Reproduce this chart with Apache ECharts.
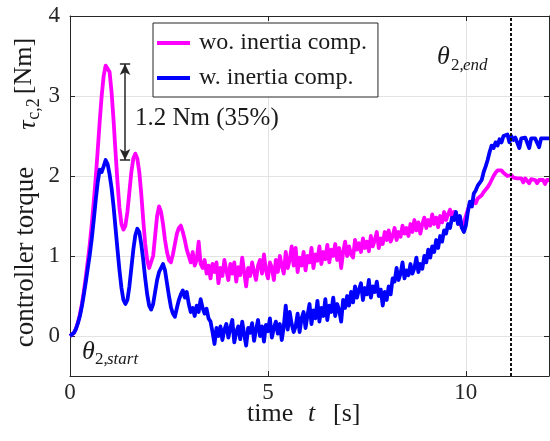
<!DOCTYPE html>
<html><head><meta charset="utf-8">
<script src="https://cdn.jsdelivr.net/npm/echarts@6/dist/echarts.min.js"></script>
<style>html,body{margin:0;padding:0;background:#fff}#c{width:550px;height:441px}</style>
</head><body><div id="c"></div>
<script>
// sampling grid of the recorded signals (seconds)
const tStart = 0, tStep = 0.05;
// controller torque tau_c,2 [Nm] without inertia compensation
const woInertia = [
0.00,0.01,0.04,0.09,0.17,0.27,0.40,0.56,0.74,0.94,1.15,1.40,1.68,1.98,2.32,2.68,3.00,3.25,3.38,3.40,
3.30,3.05,2.70,2.30,1.92,1.60,1.40,1.33,1.38,1.55,1.80,2.05,2.22,2.28,2.22,2.05,1.78,1.45,1.15,0.95,
0.85,0.85,1.00,1.25,1.50,1.62,1.55,1.40,1.20,1.05,0.95,0.92,1.02,1.15,1.28,1.35,1.38,1.30,1.20,1.08,
1.00,0.92,1.05,0.88,0.95,1.18,0.90,0.85,0.95,0.78,0.88,0.72,0.90,0.80,0.92,0.66,0.85,0.75,0.95,0.82,
0.70,0.90,0.78,0.92,0.68,0.86,0.76,0.98,0.80,0.62,0.85,0.75,0.92,0.80,0.70,0.88,0.95,0.78,1.02,0.82,
0.72,0.92,0.85,0.70,0.95,0.80,1.00,0.88,0.78,1.05,0.85,0.95,1.12,0.88,1.10,0.80,0.98,0.88,1.05,0.82,
1.00,0.92,1.10,0.85,1.02,0.94,1.12,0.90,1.05,0.96,1.14,0.92,1.08,1.00,1.15,0.95,1.10,0.85,1.05,1.18,
1.00,1.12,1.02,0.98,1.20,1.08,1.16,1.05,1.22,1.10,1.18,1.06,1.25,1.12,1.20,1.30,1.10,1.22,1.15,1.30,
1.20,1.32,1.18,1.25,1.35,1.20,1.30,1.24,1.38,1.28,1.35,1.25,1.40,1.30,1.45,1.32,1.42,1.28,1.40,1.48,
1.35,1.45,1.38,1.52,1.40,1.48,1.36,1.50,1.42,1.55,1.45,1.52,1.58,1.48,1.55,1.50,1.45,1.40,1.36,1.42,
1.50,1.58,1.65,1.62,1.70,1.66,1.72,1.70,1.76,1.80,1.82,1.86,1.90,1.95,2.00,2.04,2.07,2.08,2.07,2.04,
2.02,2.00,1.99,2.01,1.98,1.99,1.97,1.98,1.97,1.92,1.97,1.96,1.91,1.96,1.96,1.95,1.91,1.95,1.95,1.95,
1.90,1.95,1.95
];
// controller torque tau_c,2 [Nm] with inertia compensation
const wInertia = [
0.00,0.01,0.04,0.09,0.16,0.25,0.37,0.52,0.68,0.85,1.02,1.22,1.45,1.70,1.92,2.08,2.05,2.12,2.20,2.15,
2.02,1.85,1.62,1.35,1.08,0.82,0.60,0.45,0.40,0.45,0.62,0.85,1.08,1.26,1.34,1.30,1.15,0.95,0.72,0.52,
0.38,0.33,0.40,0.55,0.70,0.80,0.78,0.90,0.82,0.66,0.50,0.36,0.28,0.24,0.35,0.45,0.52,0.57,0.48,0.55,
0.40,0.30,0.35,0.25,0.38,0.30,0.46,0.35,0.28,0.34,0.22,0.18,0.05,-0.10,0.10,0.00,0.12,-0.05,0.08,0.15,
-0.02,0.10,0.20,-0.08,0.05,0.12,-0.04,0.18,0.02,-0.12,0.10,0.04,0.16,-0.06,0.08,0.20,0.00,0.12,-0.07,0.14,
0.06,0.22,-0.02,0.10,0.18,0.03,0.15,-0.05,0.12,0.38,0.08,0.30,0.15,0.05,0.12,0.28,0.05,0.22,0.30,0.10,
0.26,0.40,0.15,0.32,0.22,0.44,0.18,0.35,0.25,0.46,0.20,0.38,0.30,0.48,0.25,0.40,0.32,0.18,0.45,0.35,
0.50,0.38,0.55,0.42,0.62,0.48,0.58,0.66,0.45,0.60,0.52,0.70,0.48,0.62,0.55,0.68,0.50,0.58,0.38,0.55,
0.45,0.62,0.52,0.72,0.68,0.85,0.70,0.78,0.92,0.72,0.82,0.76,0.90,0.78,0.85,0.98,0.80,0.90,0.84,1.00,
0.92,1.08,0.98,1.12,1.05,1.20,1.10,1.25,1.18,1.32,1.28,1.40,1.35,1.48,1.45,1.55,1.40,1.50,1.35,1.30,
1.38,1.55,1.68,1.62,1.78,1.82,1.88,1.86,1.95,2.05,2.12,2.20,2.30,2.38,2.35,2.42,2.38,2.46,2.42,2.50,
2.48,2.52,2.42,2.50,2.45,2.48,2.47,2.35,2.47,2.47,2.48,2.47,2.35,2.47,2.47,2.47,2.47,2.36,2.47,2.47,
2.47,2.47,2.47
];
const seriesNames = ['wo. inertia comp.', 'w. inertia comp.'];
const xTicks = [0, 5, 10];
const yTicks = [0, 1, 2, 3, 4];
const xRange = [0, 12.1];
const yRange = [-0.5, 4];
// annotations (data units)
const thetaEnd = 11.14;
const gapT = 1.39, gapLow = 2.2, gapHigh = 3.4, capHalf = 0.13;

const toPts = arr => arr.map((v, i) => [+(tStart + i * tStep).toFixed(2), v]);

const FF = '"Liberation Serif", "Times New Roman", serif';
const AX = '#262626';
const chart = echarts.init(document.getElementById('c'), null, {renderer: 'canvas'});

function baseX(pos, main) {
  return {
    type: 'value', position: pos, min: xRange[0], max: xRange[1],
    axisLine: {show: true, onZero: false, lineStyle: {color: AX, width: 1}},
    axisTick: {show: true, inside: true, length: 5, customValues: xTicks, lineStyle: {color: AX}},
    axisLabel: {show: main, customValues: xTicks, margin: 5, fontFamily: FF, fontSize: 23, color: AX},
    splitLine: {show: main, lineStyle: {color: '#e3e3e3', width: 1}}
  };
}
function baseY(pos, main) {
  return {
    type: 'value', position: pos, min: yRange[0], max: yRange[1],
    axisLine: {show: true, onZero: false, lineStyle: {color: AX, width: 1}},
    axisTick: {show: true, inside: true, length: 5, customValues: yTicks, lineStyle: {color: AX}},
    axisLabel: {show: main, customValues: yTicks, margin: 10, fontFamily: FF, fontSize: 23, color: AX},
    splitLine: {show: main, lineStyle: {color: '#e3e3e3', width: 1}}
  };
}

const txt = (x, y, text, size, opts) => Object.assign({
  type: 'text', x: x, y: y, silent: true, z: 100,
  style: Object.assign({text: text, fontFamily: FF, fontSize: size, fill: '#1a1a1a',
    textAlign: 'left', textVerticalAlign: 'middle', align: 'left', verticalAlign: 'middle'}, (opts && opts.style) || {})
}, opts && opts.rotation ? {rotation: opts.rotation} : {});

const option = {
  animation: false,
  backgroundColor: '#fff',
  grid: {left: 70, top: 16, width: 479, height: 360, containLabel: false},
  xAxis: [baseX('bottom', true), baseX('top', false)],
  yAxis: [baseY('left', true), baseY('right', false)],
  legend: {
    data: seriesNames, left: 153, top: 23, orient: 'vertical',
    backgroundColor: '#fff', borderColor: AX, borderWidth: 1,
    padding: [8, 11, 7, 4], itemGap: 11, itemWidth: 33, itemHeight: 4, icon: 'rect',
    textStyle: {fontFamily: FF, fontSize: 24, color: '#1a1a1a', lineHeight: 24, padding: [0, 0, 0, 4]},
    selectedMode: false
  },
  series: [
    {
      name: seriesNames[0], type: 'line', data: toPts(woInertia),
      showSymbol: false, symbol: 'none', silent: true,
      lineStyle: {color: '#ff00ff', width: 3.8, join: 'round'}, itemStyle: {color: '#ff00ff'},
      emphasis: {disabled: true}, z: 2
    },
    {
      name: seriesNames[1], type: 'line', data: toPts(wInertia),
      showSymbol: false, symbol: 'none', silent: true,
      lineStyle: {color: '#0000ff', width: 3.8, join: 'round'}, itemStyle: {color: '#0000ff'},
      emphasis: {disabled: true}, z: 3,
      markLine: {
        silent: true, animation: false, label: {show: false}, emphasis: {disabled: true},
        data: [
          [{coord: [thetaEnd, yRange[0]], symbol: 'none', lineStyle: {color: '#111', width: 2, type: [3, 2]}},
           {coord: [thetaEnd, yRange[1]], symbol: 'none'}],
          [{coord: [gapT, gapLow], symbol: 'arrow', symbolSize: [8, 11], lineStyle: {color: AX, width: 1.5, type: 'solid'}, itemStyle: {color: AX}},
           {coord: [gapT, gapHigh], symbol: 'arrow', symbolSize: [8, 11], itemStyle: {color: AX}}],
          [{coord: [gapT - capHalf, gapHigh], symbol: 'none', lineStyle: {color: AX, width: 1.5, type: 'solid'}},
           {coord: [gapT + capHalf, gapHigh], symbol: 'none'}],
          [{coord: [gapT - capHalf, gapLow], symbol: 'none', lineStyle: {color: AX, width: 1.5, type: 'solid'}},
           {coord: [gapT + capHalf, gapLow], symbol: 'none'}]
        ]
      }
    }
  ],
  graphic: [
    // y axis label pieces (rotated)
    txt(26, 257, 'controller torque', 27, {rotation: Math.PI / 2, style: {textAlign: 'center', align: 'center'}}),
    txt(28, 125, 'τ', 26, {rotation: Math.PI / 2, style: {textAlign: 'center', align: 'center', fontStyle: 'italic'}}),
    txt(34, 109, 'c,2', 18, {rotation: Math.PI / 2, style: {textAlign: 'center', align: 'center'}}),
    txt(24, 66, '[Nm]', 26, {rotation: Math.PI / 2, style: {textAlign: 'center', align: 'center'}}),
    // x axis label
    txt(247, 414, 'time', 26),
    txt(308, 414, 't', 26, {style: {fontStyle: 'italic'}}),
    txt(333, 414, '[s]', 26),
    // gap annotation
    txt(135, 118, '1.2 Nm (35%)', 25),
    // theta end
    txt(437, 57, 'θ', 26, {style: {fontStyle: 'italic'}}),
    txt(451, 66, '2,', 17),
    txt(463, 66, 'end', 17, {style: {fontStyle: 'italic'}}),
    // theta start
    txt(82, 352, 'θ', 26, {style: {fontStyle: 'italic'}}),
    txt(95, 360, '2,', 17),
    txt(107, 360, 'start', 17, {style: {fontStyle: 'italic'}})
  ]
};
chart.setOption(option);
</script>
</body></html>
